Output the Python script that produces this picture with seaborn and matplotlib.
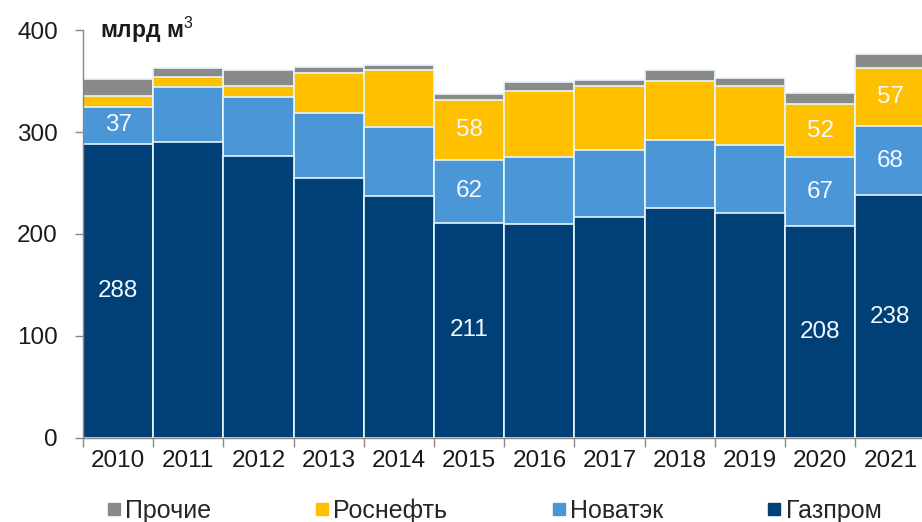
import numpy as np
import pandas as pd
import matplotlib
matplotlib.use("Agg")
import matplotlib.pyplot as plt
from matplotlib.lines import Line2D
from matplotlib.ticker import FixedLocator
import seaborn as sns

years = ["2010", "2011", "2012", "2013", "2014", "2015",
         "2016", "2017", "2018", "2019", "2020", "2021"]
gazprom = [288, 290, 276, 255, 237, 211, 210, 217, 225, 221, 208, 238]
novatek = [37, 54, 58, 64, 68, 62, 65, 65, 67, 66, 67, 68]
rosneft = [10, 10, 11, 39, 56, 58, 65, 63, 58, 58, 52, 57]
others = [17, 9, 16, 6, 5, 6, 9, 6, 11, 8, 11, 13]

series_names = ["Прочие", "Роснефть", "Новатэк", "Газпром"]
colors = {"Газпром": "#013f77", "Новатэк": "#4b96d6",
          "Роснефть": "#ffc000", "Прочие": "#8a8a8a"}

# labelled values: (year index, series, value)
labels = [(0, "Газпром", 288), (0, "Новатэк", 37),
          (5, "Газпром", 211), (5, "Новатэк", 62), (5, "Роснефть", 58),
          (10, "Газпром", 208), (10, "Новатэк", 67), (10, "Роснефть", 52),
          (11, "Газпром", 238), (11, "Новатэк", 68), (11, "Роснефть", 57)]

sns.set_style("white")
plt.rcParams["font.family"] = ["Liberation Sans", "DejaVu Sans"]
plt.rcParams["mathtext.fontset"] = "custom"
plt.rcParams["mathtext.rm"] = "Liberation Sans"

df = pd.DataFrame({"year": years, "Газпром": gazprom, "Новатэк": novatek,
                   "Роснефть": rosneft, "Прочие": others})
stack_order = ["Газпром", "Новатэк", "Роснефть", "Прочие"]
cum = df[stack_order].cumsum(axis=1)

fig = plt.figure(figsize=(9.22, 5.22), dpi=100)
ax = fig.add_axes([0.090, 0.161, 0.91, 0.7815])

# layered cumulative bars, tallest first
for name in reversed(stack_order):
    sns.barplot(x=df["year"], y=cum[name], color=colors[name], width=1.0,
                edgecolor="#e6f5fb", linewidth=1.2, saturation=1, ax=ax)

for i, name, val in labels:
    bottom = cum[name].iloc[i] - df[name].iloc[i]
    ax.text(i, bottom + df[name].iloc[i] / 2, str(val), ha="center", va="center",
            color="#f4f9ff", fontsize=17.5)

ax.set_xlim(-0.5, 11.45)
ax.set_ylim(0, 400)
ax.set_yticks([0, 100, 200, 300, 400])
ax.set_xlabel("")
ax.set_ylabel("")
sns.despine(ax=ax, top=True, right=True)
for s in ["left", "bottom"]:
    ax.spines[s].set_color("#888888")
    ax.spines[s].set_linewidth(1)

ax.tick_params(axis="y", which="major", left=True, length=6, width=1,
               color="#888888", pad=12, labelsize=17.5, labelcolor="#1a1a1a")
ax.tick_params(axis="x", which="major", bottom=False, length=0, pad=9,
               labelsize=17.5, labelcolor="#1a1a1a")
ax.xaxis.set_minor_locator(FixedLocator(np.arange(-0.5, 12, 1)))
ax.tick_params(axis="x", which="minor", bottom=True, length=6.5, width=1,
               color="#888888")

fig.text(0.108, 0.943, "млрд м$^3$", fontsize=16.5, fontweight="bold",
         color="#1a1a1a", ha="left", va="center")

handles = [Line2D([], [], marker="s", linestyle="none", markersize=9,
                  color=colors[n]) for n in series_names]
fig.legend(handles, series_names, loc="center left", ncol=4, frameon=False,
           bbox_to_anchor=(0.115, 0.022), fontsize=18, handletextpad=0.15,
           columnspacing=4.15, handlelength=0.6, borderpad=0, borderaxespad=0)

fig.savefig("out.png", dpi=100)
